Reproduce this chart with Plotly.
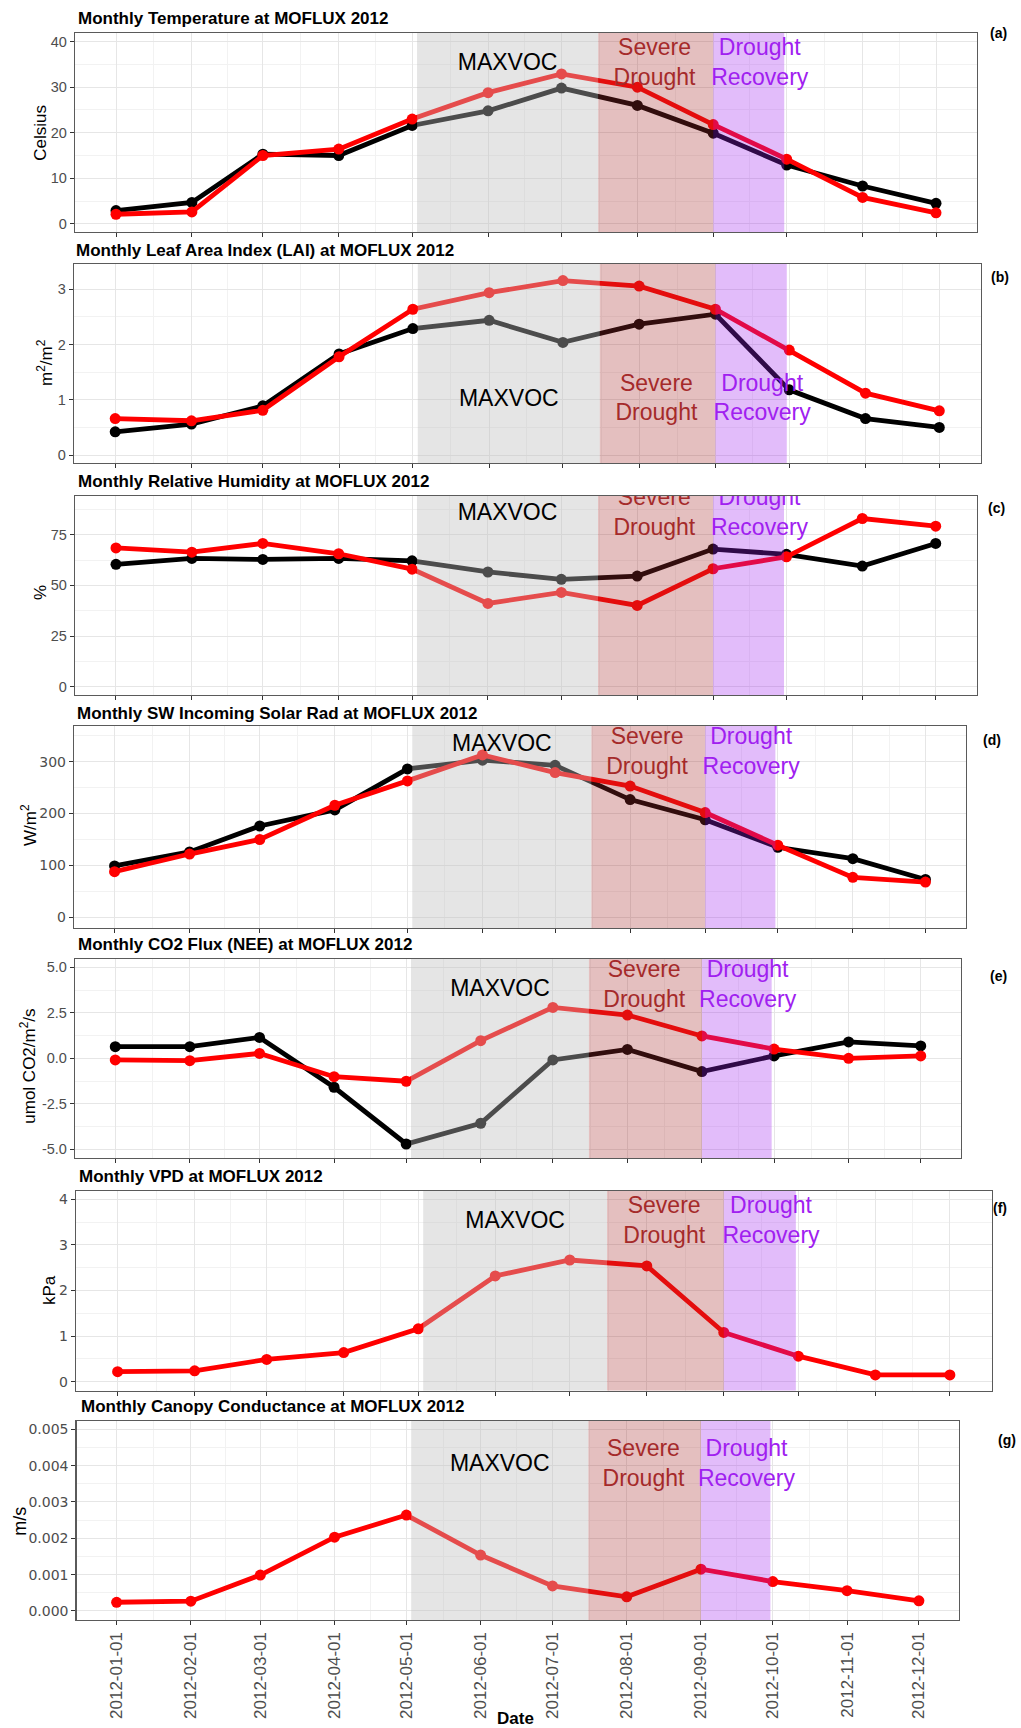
import plotly.graph_objects as go
import pandas as pd

W, H = 1021, 1728

# ---------------- data ----------------
months = ["2012-01-01", "2012-02-01", "2012-03-01", "2012-04-01", "2012-05-01", "2012-06-01",
          "2012-07-01", "2012-08-01", "2012-09-01", "2012-10-01", "2012-11-01", "2012-12-01"]
x_tick_labels = list(months)

temp_black = [2.9, 4.7, 15.3, 15.0, 21.6, 24.8, 29.8, 26.0, 19.9, 12.9, 8.3, 4.5]
temp_red = [2.1, 2.6, 15.0, 16.4, 23.0, 28.8, 32.9, 30.0, 21.8, 14.2, 5.8, 2.4]
lai_black = [0.42, 0.56, 0.89, 1.83, 2.29, 2.44, 2.04, 2.37, 2.55, 1.18, 0.66, 0.50]
lai_red = [0.66, 0.62, 0.81, 1.78, 2.64, 2.94, 3.16, 3.06, 2.64, 1.90, 1.12, 0.80]
rh_black = [60.4, 63.3, 62.8, 63.3, 62.1, 56.6, 53.0, 54.6, 67.9, 65.3, 59.5, 70.7]
rh_red = [68.5, 66.4, 70.7, 65.6, 58.0, 41.1, 46.5, 40.1, 58.2, 64.1, 83.0, 79.2]
sw_black = [99, 126, 176, 207, 286, 303, 293, 227, 188, 135, 113, 73]
sw_red = [88, 122, 150, 216, 263, 313, 279, 253, 202, 139, 77, 68]
nee_black = [0.64, 0.64, 1.15, -1.59, -4.71, -3.57, -0.09, 0.49, -0.73, 0.13, 0.90, 0.68]
nee_red = [-0.09, -0.13, 0.27, -1.01, -1.26, 0.97, 2.80, 2.38, 1.23, 0.51, 0.00, 0.13]
vpd_red = [0.22, 0.24, 0.49, 0.64, 1.16, 2.32, 2.67, 2.54, 1.08, 0.56, 0.15, 0.15]
gc_red = [0.00024, 0.00027, 0.00099, 0.00203, 0.00264, 0.00154, 0.00069, 0.00039,
          0.00115, 0.00081, 0.00056, 0.00028]

period_labels = ["MAXVOC", "Severe<br>Drought", "Drought<br>Recovery"]
period_start = ["2012-05-03", "2012-07-16", "2012-09-01"]
period_end = ["2012-07-16", "2012-09-01", "2012-09-30"]
period_label_x = ["2012-06-09", "2012-08-08", "2012-09-20"]

panel_titles = ["Monthly Temperature at MOFLUX 2012",
                "Monthly Leaf Area Index (LAI) at MOFLUX 2012",
                "Monthly Relative Humidity at MOFLUX 2012",
                "Monthly SW Incoming Solar Rad at MOFLUX 2012",
                "Monthly CO2 Flux (NEE) at MOFLUX 2012",
                "Monthly VPD at MOFLUX 2012",
                "Monthly Canopy Conductance at MOFLUX 2012"]
panel_tags = ["(a)", "(b)", "(c)", "(d)", "(e)", "(f)", "(g)"]
y_titles = ["Celsius", "m<sup>2</sup>/m<sup>2</sup>", "%", "W/m<sup>2</sup>",
            "umol CO2/m<sup>2</sup>/s", "kPa", "m/s"]
x_title = "Date"

y_tickvals = [[0, 10, 20, 30, 40], [0, 1, 2, 3], [0, 25, 50, 75], [0, 100, 200, 300],
              [-5, -2.5, 0, 2.5, 5], [0, 1, 2, 3, 4],
              [0, 0.001, 0.002, 0.003, 0.004, 0.005]]
y_ticktext = [["0", "10", "20", "30", "40"], ["0", "1", "2", "3"], ["0", "25", "50", "75"],
              ["0", "100", "200", "300"], ["-5.0", "-2.5", "0.0", "2.5", "5.0"],
              ["0", "1", "2", "3", "4"],
              ["0.000", "0.001", "0.002", "0.003", "0.004", "0.005"]]
label_y = [[35, 35, 35], [1, 1, 1], [85, 85, 85], [332, 317, 317], [3.75, 3.95, 3.95],
           [3.5, 3.5, 3.5], [0.004, 0.004, 0.004]]

black_series = [temp_black, lai_black, rh_black, sw_black, nee_black, None, None]
red_series = [temp_red, lai_red, rh_red, sw_red, nee_red, vpd_red, gc_red]

# ---------------- layout / style ----------------
y_ranges = [[-1.8, 41.9], [-0.145, 3.46], [-4.1, 94.1], [-20.6, 368.8], [-5.48, 5.46],
            [-0.197, 4.19], [-0.000248, 0.005237]]
panel_px = [(75, 977, 33, 232), (74, 980.5, 264, 463), (75, 976.7, 496, 695),
            (74, 966, 726, 928), (75, 961, 959, 1158), (76, 991.5, 1190.7, 1390.7),
            (76.5, 959, 1420.7, 1620)]
title_px = [(76, 18.7), (74, 250.7), (76, 481.7), (75, 713.3), (76, 944), (77, 1176.7),
            (78.5, 1406)]
ytitle_px = [(40.7, 133), (45, 363), (40, 593), (29, 825), (28, 1066.7), (49, 1290),
             (20, 1521.7)]
ytitle_size = [17, 17, 17, 17, 17, 17, 18]
tag_px = [(998, 33), (1000, 277), (996, 508), (992, 740), (998, 976), (1000, 1208),
          (1007, 1440)]
tick_family = ["Liberation Sans", "Liberation Sans", "Liberation Sans", "DejaVu Sans",
               "Liberation Sans", "DejaVu Sans", "DejaVu Sans"]
tick_size = [14.5, 14.5, 14.5, 14, 14.5, 14, 14]

FONT = "Liberation Sans, Arial, sans-serif"
period_fill = ["rgba(190,190,190,0.4)", "rgba(165,42,42,0.3)", "rgba(160,32,240,0.3)"]
period_text_color = ["#000000", "#A52A2A", "#A020F0"]
MAJOR = "#E6E6E6"
MINOR = "#F2F2F2"
BORDER = "#5A5A5A"
TICKC = "#333333"
TICKLAB = "#4D4D4D"

m = pd.to_datetime(months)
span = m[-1] - m[0]
x_range = [(m[0] - 0.05 * span).strftime("%Y-%m-%d %H:%M"),
           (m[-1] + 0.05 * span).strftime("%Y-%m-%d %H:%M")]
x_minor = [(m[i] + (m[i + 1] - m[i]) / 2).strftime("%Y-%m-%d %H:%M") for i in range(len(m) - 1)]

fig = go.Figure()
annotations = []

for i in range(7):
    n = i + 1
    xr = "x" if n == 1 else f"x{n}"
    yr = "y" if n == 1 else f"y{n}"
    y0, y1 = y_ranges[i]

    # series: black first, red on top
    for series, col in ((black_series[i], "#000000"), (red_series[i], "#FF0000")):
        if series is None:
            continue
        fig.add_trace(go.Scatter(
            x=months, y=series, xaxis=xr, yaxis=yr, mode="lines+markers",
            line=dict(color=col, width=4.8), marker=dict(color=col, size=11),
            hoverinfo="skip", showlegend=False))

    # shaded periods drawn over the lines
    for s, e, fc in zip(period_start, period_end, period_fill):
        fig.add_trace(go.Scatter(
            x=[s, s, e, e, s], y=[y0, y1, y1, y0, y0], xaxis=xr, yaxis=yr,
            mode="lines", fill="toself", fillcolor=fc, line=dict(width=0),
            hoverinfo="skip", showlegend=False))

    # period labels (clipped to the panel)
    fig.add_trace(go.Scatter(
        x=period_label_x, y=label_y[i], xaxis=xr, yaxis=yr, mode="text",
        text=period_labels, textposition="middle center", cliponaxis=True,
        textfont=dict(family=FONT, size=23, color=period_text_color),
        hoverinfo="skip", showlegend=False))

    l, r, t, b = panel_px[i]
    tv = y_tickvals[i]
    step = tv[1] - tv[0]
    yminor = [v + step / 2 for v in [tv[0] - step] + tv if y0 < v + step / 2 < y1]

    xa = dict(domain=[l / W, r / W], anchor=yr, type="date", range=x_range,
              tickmode="array", tickvals=months, ticktext=x_tick_labels,
              showticklabels=(n == 7), tickangle=-90,
              tickfont=dict(family=FONT, size=17, color=TICKLAB),
              ticks="outside", ticklen=4, tickwidth=1, tickcolor=TICKC,
              showgrid=True, gridcolor=MAJOR, gridwidth=1,
              minor=dict(tickmode="array", tickvals=x_minor, showgrid=True,
                         gridcolor=MINOR, gridwidth=1, ticks=""),
              showline=True, mirror=True, linecolor=BORDER, linewidth=1.2,
              zeroline=False, fixedrange=True)
    ya = dict(domain=[1 - b / H, 1 - t / H], anchor=xr, range=[y0, y1],
              tickmode="array", tickvals=tv, ticktext=y_ticktext[i],
              tickfont=dict(family=tick_family[i], size=tick_size[i], color=TICKLAB),
              ticks="outside", ticklen=4, tickwidth=1, tickcolor=TICKC,
              showgrid=True, gridcolor=MAJOR, gridwidth=1,
              minor=dict(tickmode="array", tickvals=yminor, showgrid=True,
                         gridcolor=MINOR, gridwidth=1, ticks=""),
              showline=True, mirror=True, linecolor=BORDER, linewidth=1.2,
              zeroline=False, fixedrange=True)
    fig.update_layout({("xaxis" if n == 1 else f"xaxis{n}"): xa,
                       ("yaxis" if n == 1 else f"yaxis{n}"): ya})

    tx, ty = title_px[i]
    annotations.append(dict(text=f"<b>{panel_titles[i]}</b>", x=tx / W, y=1 - ty / H,
                            xref="paper", yref="paper", xanchor="left", yanchor="middle",
                            showarrow=False, font=dict(family=FONT, size=17, color="#000000")))
    yx, yy = ytitle_px[i]
    annotations.append(dict(text=y_titles[i], x=yx / W, y=1 - yy / H, xref="paper",
                            yref="paper", xanchor="center", yanchor="middle", textangle=-90,
                            showarrow=False,
                            font=dict(family=FONT, size=ytitle_size[i], color="#000000")))
    gx, gy = tag_px[i]
    annotations.append(dict(text=f"<b>{panel_tags[i]}</b>", x=gx / W, y=1 - gy / H,
                            xref="paper", yref="paper", xanchor="center", yanchor="middle",
                            showarrow=False, font=dict(family=FONT, size=14, color="#000000")))

annotations.append(dict(text=f"<b>{x_title}</b>", x=515 / W, y=1 - 1718 / H, xref="paper",
                        yref="paper", xanchor="center", yanchor="middle", showarrow=False,
                        font=dict(family=FONT, size=17, color="#000000")))

fig.update_layout(width=W, height=H, margin=dict(l=0, r=0, t=0, b=0),
                  paper_bgcolor="white", plot_bgcolor="white", showlegend=False,
                  annotations=annotations, font=dict(family=FONT))

fig.write_html("out.html",
               config={"displayModeBar": False, "staticPlot": True},
               post_script="document.body.style.margin='0';"
                           "document.body.style.padding='0';"
                           "document.body.style.overflow='hidden';"
                           "document.documentElement.style.overflow='hidden';")
